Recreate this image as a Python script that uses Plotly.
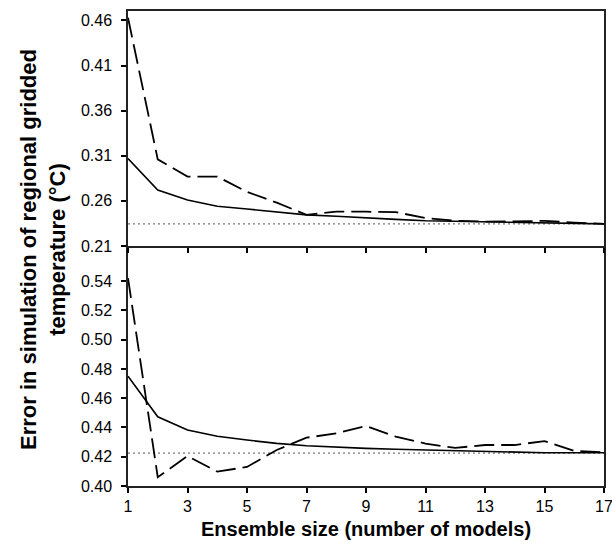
import plotly.graph_objects as go

x = list(range(1, 18))

# Top panel
top_solid = [0.307, 0.272, 0.261, 0.254, 0.251, 0.248, 0.2445, 0.243, 0.241, 0.2395,
             0.238, 0.2375, 0.237, 0.2365, 0.236, 0.235, 0.2345]
top_dashed = [0.463, 0.306, 0.287, 0.287, 0.270, 0.258, 0.2445, 0.248, 0.248, 0.2475,
              0.241, 0.238, 0.237, 0.2378, 0.2378, 0.236, 0.2345]
top_ref = 0.2345

# Bottom panel
bot_solid = [0.475, 0.4473, 0.4382, 0.434, 0.4314, 0.4291, 0.4275, 0.4265, 0.4257, 0.4251,
             0.4246, 0.424, 0.4234, 0.423, 0.4227, 0.4227, 0.4227]
bot_dashed = [0.542, 0.406, 0.4205, 0.4098, 0.413, 0.4246, 0.433, 0.436, 0.441, 0.4337,
              0.429, 0.426, 0.428, 0.428, 0.4307, 0.424, 0.423]
bot_ref = 0.4225

top_ticks = [0.21, 0.26, 0.31, 0.36, 0.41, 0.46]
bot_ticks = [0.40, 0.42, 0.44, 0.46, 0.48, 0.50, 0.52, 0.54]
x_ticks = [1, 3, 5, 7, 9, 11, 13, 15, 17]

fig = go.Figure()

def add(xs, ys, dash, width, color, xa, ya):
    fig.add_trace(go.Scatter(x=xs, y=ys, mode="lines",
                             line=dict(color=color, width=width, dash=dash),
                             xaxis=xa, yaxis=ya, showlegend=False, hoverinfo="skip"))

add(x, [top_ref]*len(x), "2px,3px", 1.2, "#777777", "x2", "y2")
add(x, top_solid, "solid", 1.6, "black", "x2", "y2")
add(x, top_dashed, "20px,7px", 1.8, "black", "x2", "y2")
add(x, [bot_ref]*len(x), "2px,3px", 1.2, "#777777", "x", "y")
add(x, bot_solid, "solid", 1.6, "black", "x", "y")
add(x, bot_dashed, "20px,7px", 1.8, "black", "x", "y")

font = dict(family="Liberation Sans, Arial, sans-serif", size=16, color="black")
split = 0.5053

common_x = dict(range=[1, 17], tickvals=x_ticks, ticks="outside", ticklen=5,
                tickwidth=1.5, tickcolor="black", showline=True, linecolor="#222222",
                linewidth=1.5, showgrid=False, zeroline=False,
                automargin=False, ticklabeloverflow="allow")
common_y = dict(ticks="outside", ticklen=5, tickwidth=1.5, tickcolor="black",
                showline=True, linecolor="#222222", linewidth=1.5, mirror=True,
                showgrid=False, zeroline=False, automargin=False, ticklabelstandoff=6)

fig.update_layout(
    width=612, height=544,
    margin=dict(l=128, r=8, t=11, b=58),
    paper_bgcolor="white", plot_bgcolor="white",
    font=font,
    xaxis=dict(**common_x, domain=[0, 1], anchor="y", mirror=False, ticklabelstandoff=0),
    yaxis=dict(**common_y, domain=[0, split], anchor="x", range=[0.40, 0.564],
               tickvals=bot_ticks, ticktext=[f"{v:.2f}" for v in bot_ticks]),
    xaxis2=dict(**common_x, domain=[0, 1], anchor="y2", mirror=True, showticklabels=False),
    yaxis2=dict(**common_y, domain=[split, 1], anchor="x2", range=[0.21, 0.4705],
                tickvals=top_ticks, ticktext=[f"{v:.2f}" for v in top_ticks]),
    annotations=[
        dict(text="<b>Error in simulation of regional gridded<br>temperature (°C)</b>",
             xref="paper", yref="paper", x=-0.1786, y=0.499, xanchor="center",
             yanchor="middle", textangle=-90, showarrow=False,
             font=dict(size=22), align="center"),
        dict(text="<b>Ensemble size (number of models)</b>",
             xref="paper", yref="paper", x=0.5, y=-0.09, xanchor="center",
             yanchor="middle", showarrow=False, font=dict(size=20)),
    ],
)

fig.write_html("out.html", config={"displayModeBar": False},
               post_script="document.body.style.margin='0';document.body.style.padding='0';")
